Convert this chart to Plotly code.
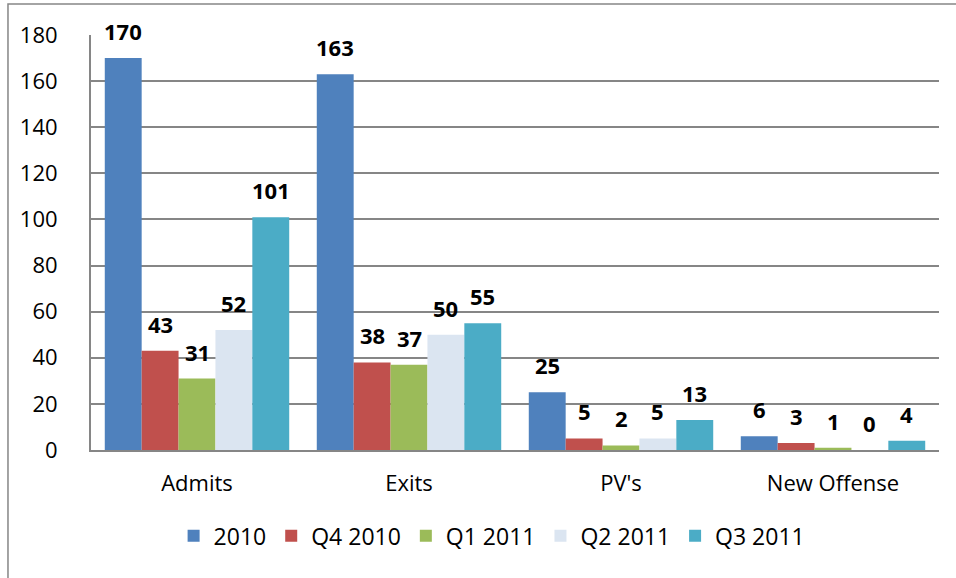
import plotly.graph_objects as go

categories = ["Admits", "Exits", "PV's", "New Offense"]
series_names = ["2010", "Q4 2010", "Q1 2011", "Q2 2011", "Q3 2011"]
v_2010 = [170, 163, 25, 6]
v_q4_2010 = [43, 38, 5, 3]
v_q1_2011 = [31, 37, 2, 1]
v_q2_2011 = [52, 50, 5, 0]
v_q3_2011 = [101, 55, 13, 4]
y_ticks = [0, 20, 40, 60, 80, 100, 120, 140, 160, 180]

values = [v_2010, v_q4_2010, v_q1_2011, v_q2_2011, v_q3_2011]
colors = ["#4F81BD", "#C0504D", "#9BBB59", "#DBE5F1", "#4BACC6"]

FONT = "Open Sans"
FS = 22
BARGAP = 0.13

fig = go.Figure()
for name, vals, col in zip(series_names, values, colors):
    fig.add_trace(go.Bar(
        name=name, x=categories, y=vals,
        marker=dict(color=col, line=dict(width=0)),
        hoverinfo="x+y+name",
    ))

# data labels above bars
n = len(series_names)
w = (1 - BARGAP) / n
for j, vals in enumerate(values):
    for i, v in enumerate(vals):
        fig.add_annotation(
            x=i + (j - (n - 1) / 2) * w, y=v, xref="x", yref="y",
            text=f"<b>{v}</b>", showarrow=False,
            yanchor="middle", yshift=27,
            font=dict(family=FONT, size=22, color="#000000"),
        )

# outer chart border
fig.add_shape(
    type="rect", xref="paper", yref="paper",
    x0=-0.0979, x1=1.03, y0=-0.35, y1=1.0747,
    line=dict(color="#868686", width=1.5), fillcolor="rgba(0,0,0,0)",
    layer="below",
)

fig.update_layout(
    width=956, height=578,
    barmode="group", bargap=BARGAP, bargroupgap=0,
    paper_bgcolor="#FFFFFF", plot_bgcolor="#FFFFFF",
    margin=dict(l=91, r=17, t=35, b=128, autoexpand=False),
    font=dict(family=FONT, size=FS, color="#000000"),
    showlegend=True,
    legend=dict(
        orientation="h", x=0.473, xanchor="center", y=-0.155, yanchor="top",
        font=dict(family=FONT, size=23, color="#000000"),
        itemwidth=30, traceorder="normal",
    ),
)
fig.update_xaxes(
    type="category", showline=True, linecolor="#868686", linewidth=2,
    showgrid=False, ticks="", ticklabelstandoff=13,
    tickfont=dict(family=FONT, size=FS, color="#000000"),
)
fig.update_yaxes(
    range=[0, 180], tickvals=y_ticks, showline=True, linecolor="#868686", linewidth=2,
    showgrid=True, gridcolor="#868686", gridwidth=1.5, zeroline=False,
    ticks="", ticklabelstandoff=27,
    tickfont=dict(family=FONT, size=FS, color="#000000"),
)

fig.write_html("out.html", config={"displayModeBar": False},
               post_script="document.body.style.margin='0';")
